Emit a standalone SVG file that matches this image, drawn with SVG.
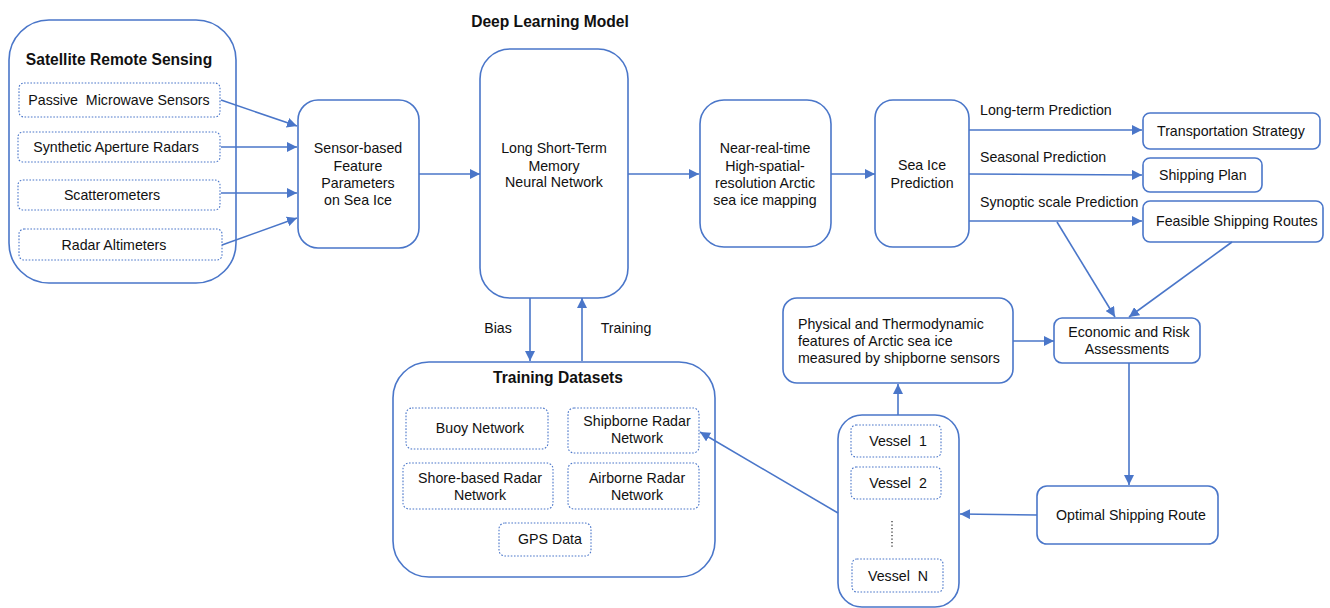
<svg xmlns="http://www.w3.org/2000/svg" width="1330" height="608" viewBox="0 0 1330 608">
<style>
text{font-family:"Liberation Sans",Arial,Helvetica,sans-serif;font-size:14.2px;fill:#111;dominant-baseline:central;white-space:pre}
.t{font-weight:bold;font-size:15.6px}
.m{text-anchor:middle}
.box{fill:#fff;stroke:#4a76c9;stroke-width:1.6}
.dot{fill:#fff;stroke:#4a76c9;stroke-width:1.1;stroke-dasharray:1.6 1.6}
.c{fill:none;stroke:#4a76c9;stroke-width:1.6;marker-end:url(#ah)}
.l{fill:none;stroke:#4a76c9;stroke-width:1.6}
</style>
<defs>
<marker id="ah" viewBox="0 0 10 10" refX="10" refY="5" markerWidth="10" markerHeight="10" markerUnits="userSpaceOnUse" orient="auto">
<path d="M0,0 L10,5 L0,10 z" fill="#4a76c9"/>
</marker>
</defs>
<rect width="1330" height="608" fill="#fff"/>

<g id="satellite">
<rect class="box" x="9" y="20" width="227" height="263" rx="40"/>
<text class="t m" x="119" y="59">Satellite Remote Sensing</text>
<rect class="dot" x="19" y="83" width="201" height="34" rx="5"/>
<text class="m" x="119" y="100">Passive  Microwave Sensors</text>
<rect class="dot" x="18" y="132" width="202" height="30" rx="5"/>
<text class="m" x="116" y="147">Synthetic Aperture Radars</text>
<rect class="dot" x="18" y="180" width="202" height="30" rx="5"/>
<text class="m" x="112" y="195">Scatterometers</text>
<rect class="dot" x="19" y="229" width="203" height="31" rx="5"/>
<text class="m" x="114" y="245">Radar Altimeters</text>
</g>

<g id="sensor">
<rect class="box" x="298" y="100" width="121" height="148" rx="20"/>
<text class="m" x="358" y="148">Sensor-based</text>
<text class="m" x="358" y="166">Feature</text>
<text class="m" x="358" y="183">Parameters</text>
<text class="m" x="358" y="200">on Sea Ice</text>
</g>

<g id="lstm">
<text class="t m" x="550" y="21">Deep Learning Model</text>
<rect class="box" x="480" y="49" width="148" height="249" rx="30"/>
<text class="m" x="554" y="148">Long Short-Term</text>
<text class="m" x="554" y="166">Memory</text>
<text class="m" x="554" y="182">Neural Network</text>
</g>

<g id="mapping">
<rect class="box" x="700" y="100" width="131" height="147" rx="24"/>
<text class="m" x="765" y="148">Near-real-time</text>
<text class="m" x="765" y="166">High-spatial-</text>
<text class="m" x="765" y="183">resolution Arctic</text>
<text class="m" x="765" y="200">sea ice mapping</text>
</g>

<g id="seaice">
<rect class="box" x="875" y="100" width="94" height="147" rx="18"/>
<text class="m" x="922" y="165">Sea Ice</text>
<text class="m" x="922" y="183">Prediction</text>
</g>

<g id="transport">
<rect class="box" x="1143" y="113" width="177" height="36" rx="7"/>
<text x="1157" y="131">Transportation Strategy</text>
</g>
<g id="plan">
<rect class="box" x="1143" y="158" width="119" height="34" rx="7"/>
<text x="1159" y="175">Shipping Plan</text>
</g>
<g id="feasible">
<rect class="box" x="1143" y="201" width="180" height="41" rx="7"/>
<text x="1156" y="221">Feasible Shipping Routes</text>
</g>

<g id="economic">
<rect class="box" x="1054" y="318" width="146" height="45" rx="8"/>
<text class="m" x="1129" y="332">Economic and Risk</text>
<text class="m" x="1127" y="349">Assessments</text>
</g>

<g id="optimal">
<rect class="box" x="1037" y="486" width="181" height="58" rx="10"/>
<text class="m" x="1131" y="515">Optimal Shipping Route</text>
</g>

<g id="physical">
<rect class="box" x="783" y="298" width="230" height="85" rx="14"/>
<text x="798" y="324">Physical and Thermodynamic</text>
<text x="798" y="341">features of Arctic sea ice</text>
<text x="798" y="358">measured by shipborne sensors</text>
</g>

<g id="vessels">
<rect class="box" x="838" y="415" width="121" height="192" rx="24"/>
<rect class="dot" x="851" y="425" width="90" height="32" rx="5"/>
<text class="m" x="898" y="441">Vessel  1</text>
<rect class="dot" x="851" y="467" width="90" height="32" rx="5"/>
<text class="m" x="898" y="483">Vessel  2</text>
<line x1="892" y1="521" x2="892" y2="548" stroke="#222" stroke-width="1.2" stroke-dasharray="1.3 2.2"/>
<rect class="dot" x="852" y="559" width="91" height="33" rx="5"/>
<text class="m" x="898" y="576">Vessel  N</text>
</g>

<g id="datasets">
<rect class="box" x="393" y="362" width="322" height="215" rx="36"/>
<text class="t m" x="558" y="377">Training Datasets</text>
<rect class="dot" x="406" y="408" width="142" height="41" rx="6"/>
<text class="m" x="480" y="428">Buoy Network</text>
<rect class="dot" x="568" y="408" width="131" height="45" rx="6"/>
<text class="m" x="637" y="421">Shipborne Radar</text>
<text class="m" x="637" y="438">Network</text>
<rect class="dot" x="403" y="463" width="150" height="46" rx="6"/>
<text class="m" x="480" y="478">Shore-based Radar</text>
<text class="m" x="480" y="495">Network</text>
<rect class="dot" x="568" y="463" width="131" height="46" rx="6"/>
<text class="m" x="637" y="478">Airborne Radar</text>
<text class="m" x="637" y="495">Network</text>
<rect class="dot" x="499" y="523" width="92" height="33" rx="6"/>
<text class="m" x="550" y="539">GPS Data</text>
</g>

<g id="connectors">
<path class="c" d="M221,100 L297,126"/>
<path class="c" d="M221,147 L297,147"/>
<path class="c" d="M221,193 L297,193"/>
<path class="c" d="M222,245 L297,218"/>
<path class="c" d="M419,174 L480,174"/>
<path class="c" d="M628,174 L699,174"/>
<path class="c" d="M831,174 L875,174"/>
<path class="c" d="M969,130 L1142,130"/>
<path class="c" d="M969,174 L1142,175"/>
<path class="c" d="M969,221 L1142,221"/>
<text x="980" y="110">Long-term Prediction</text>
<text x="980" y="157">Seasonal Prediction</text>
<text x="980" y="202">Synoptic scale Prediction</text>
<path class="c" d="M1057,222 L1115,317"/>
<path class="c" d="M1232,242 L1129,317"/>
<path class="c" d="M1013,341 L1054,341"/>
<path class="c" d="M1129,363 L1129,485"/>
<path class="c" d="M1037,515 L960,514"/>
<path class="c" d="M898,415 L898,384"/>
<path class="c" d="M838,513 L700,432"/>
<path class="c" d="M530,298 L530,361"/>
<path class="c" d="M582,361 L582,298"/>
<text class="m" x="498" y="328">Bias</text>
<text class="m" x="626" y="328">Training</text>
</g>
</svg>
